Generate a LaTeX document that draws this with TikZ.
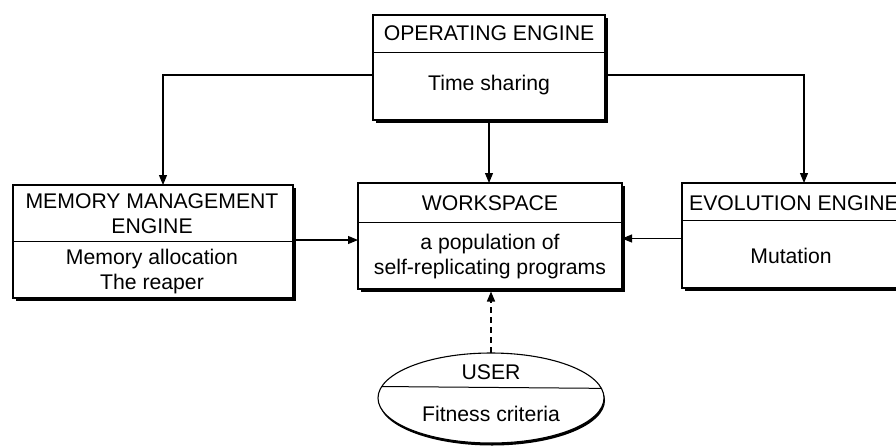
\documentclass[tikz,border=0pt]{standalone}
\usepackage{fontspec}
\setmainfont{Liberation Sans}
\usetikzlibrary{arrows.meta,shadows,shapes.geometric}
\begin{document}
\begin{tikzpicture}[x=1pt,y=-1pt,
  box/.style={draw=black, line width=1.1pt, fill=white, inner sep=0pt, outer sep=0pt,
    anchor=north west,
    drop shadow={shadow xshift=2.5pt, shadow yshift=-2.5pt, fill=black, opacity=1}},
  oval/.style={ellipse, draw=black, line width=1.1pt, fill=white, inner sep=0pt, outer sep=0pt,
    drop shadow={shadow xshift=1pt, shadow yshift=-2.5pt, fill=black, opacity=1}},
  txt/.style={font=\fontsize{21.2}{25}\selectfont, align=center, inner sep=0pt},
  divider/.style={line width=1pt},
  conn/.style={line width=1.1pt, -{Triangle[length=10pt,width=8pt]}},
  dashconn/.style={conn, line width=1.6pt, dash pattern=on 6pt off 4pt}]

  \fill[white] (0,0) rectangle (896,445);
  \useasboundingbox (0,0) rectangle (896,445);
  \clip (0,0) rectangle (896,445);

  % boxes
  \node[box, minimum width=232pt, minimum height=105pt] (oe)  at (373,15)  {};
  \node[box, minimum width=280pt, minimum height=113pt] (mem) at (13,185)  {};
  \node[box, minimum width=264pt, minimum height=106pt] (ws)  at (358,183) {};
  \node[box, minimum width=224pt, minimum height=105pt] (evo) at (682,183) {};
  \node[oval, minimum width=226pt, minimum height=90pt] (user) at (491,398) {};

  % header dividers
  \draw[divider] (oe.west |- 0,52)   -- (oe.east |- 0,52);
  \draw[divider] (mem.west |- 0,241) -- (mem.east |- 0,241);
  \draw[divider] (ws.west |- 0,222)  -- (ws.east |- 0,222);
  \draw[divider] (evo.west |- 0,220) -- (evo.east |- 0,220);
  \draw[divider] (user.174.3) -- (user.5.7);

  % texts
  \node[txt] (oeh) at (489,33.5) {OPERATING ENGINE};
  \node[txt] (oeb) at (489,85) {Time sharing};
  \node[txt] (memh) at (152,214) {MEMORY MANAGEMENT\\ENGINE};
  \node[txt] (memb) at (152,272) {Memory allocation\\The reaper};
  \node[txt] (wsh) at (490,203) {WORKSPACE};
  \node[txt] (wsb) at (490,257) {a population of\\self-replicating programs};
  \node[txt] (evoh) at (794,203) {EVOLUTION ENGINE};
  \node[txt] (evob) at (791,256) {Mutation};
  \node[txt] (userh) at (491,372) {USER};
  \node[txt] (userb) at (491,414) {Fitness criteria};

  % connectors
  \draw[conn] ([yshift=-7.5pt]oe.west) -| ([xshift=10pt]mem.north);
  \draw[conn] ([yshift=-7.5pt]oe.east) -| ([xshift=10pt]evo.north);
  \draw[conn] (oe.south) -- (oe.south |- ws.north);
  \draw[conn] ([yshift=1.5pt]mem.east) -- ([yshift=1.5pt]mem.east -| ws.west);
  \draw[conn] ([yshift=-3pt]evo.west) -- ([yshift=-3pt]evo.west -| ws.east);
  \draw[dashconn] (user.north) -- ([yshift=-2.5pt]user.north |- ws.south);
\end{tikzpicture}
\end{document}
